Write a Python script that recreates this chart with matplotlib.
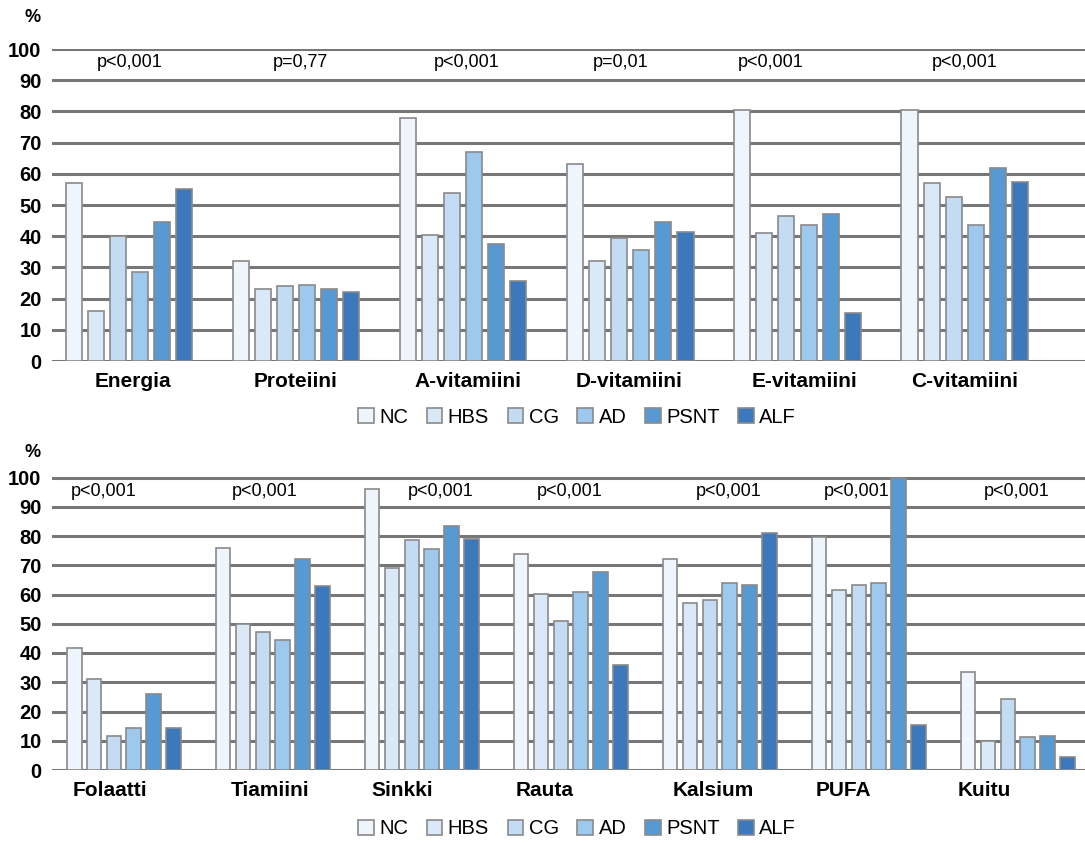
import matplotlib
matplotlib.use("Agg")
import matplotlib.pyplot as plt
from matplotlib.patches import Patch

plt.rcParams['font.family'] = ['Liberation Sans', 'DejaVu Sans']

groups = ["NC", "HBS", "CG", "AD", "PSNT", "ALF"]
colors = ["#EEF5FD", "#DAE9F8", "#C3DCF3", "#9DC9EE", "#5799D3", "#3C78BC"]

top_cats = ["Energia", "Proteiini", "A-vitamiini", "D-vitamiini", "E-vitamiini", "C-vitamiini"]
top_p = ["p<0,001", "p=0,77", "p<0,001", "p=0,01", "p<0,001", "p<0,001"]
top_vals = {
    "NC":   [57, 32, 78, 63, 80.5, 80.5],
    "HBS":  [16, 23, 40.5, 32, 41, 57],
    "CG":   [40, 24, 54, 39.5, 46.5, 52.5],
    "AD":   [28.5, 24.5, 67, 35.5, 43.5, 43.5],
    "PSNT": [44.5, 23, 37.5, 44.5, 47, 62],
    "ALF":  [55, 22, 25.5, 41.5, 15.5, 57.5],
}

bot_cats = ["Folaatti", "Tiamiini", "Sinkki", "Rauta", "Kalsium", "PUFA", "Kuitu"]
bot_p = ["p<0,001"] * 7
bot_vals = {
    "NC":   [41.6, 75.8, 96, 74, 72.2, 79.8, 33.6],
    "HBS":  [31, 49.8, 69, 60.1, 57, 61.7, 10],
    "CG":   [11.6, 47.1, 78.6, 51, 58, 63.2, 24.2],
    "AD":   [14.2, 44.3, 75.7, 60.9, 63.8, 64, 11.2],
    "PSNT": [25.9, 72.3, 83.4, 67.8, 63.2, 100, 11.6],
    "ALF":  [14.2, 62.9, 78.9, 35.8, 81.1, 15.3, 4.4],
}
yticks = [0, 10, 20, 30, 40, 50, 60, 70, 80, 90, 100]

# layout offsets (label / p-text horizontal nudges, in group units)
top_p_off = [0.006, 0.024, 0.018, -0.06, -0.16, 0.0]
top_lab_off = [0.027, 0.0, 0.03, -0.01, 0.04, 0.0]
bot_p_off = [-0.134, -0.057, 0.126, -0.01, 0.06, -0.08, -0.007]
bot_lab_off = [-0.094, -0.02, -0.134, -0.18, -0.044, -0.174, -0.228]

W, H = 1085, 843
fig = plt.figure(figsize=(W / 100, H / 100), dpi=100)

def make_panel(rect, cats, vals, pvals, step, width, xlim, p_off, lab_off, lab_y, p_y):
    ax = fig.add_axes(rect)
    for j, g in enumerate(groups):
        xs = [i + (j - 2.5) * step for i in range(len(cats))]
        ax.bar(xs, vals[g], width=width, color=colors[j], edgecolor="#8a8a8a",
               linewidth=1.2, zorder=3)
    ax.set_xlim(*xlim)
    ax.set_ylim(0, 100)
    ax.set_yticks(yticks)
    ax.set_yticklabels([str(t) for t in yticks], fontsize=14.5, fontweight="bold")
    ax.tick_params(axis="y", length=0, pad=7.5)
    ax.set_xticks([])
    for s in ax.spines.values():
        s.set_visible(False)
    ax.yaxis.grid(True, color="#777777", linewidth=2.2, zorder=0)
    ax.set_axisbelow(True)
    for i, c in enumerate(cats):
        ax.text(i + lab_off[i], lab_y, c, ha="center", va="center",
                fontsize=15, fontweight="bold", clip_on=False)
        ax.text(i + p_off[i], p_y, pvals[i], ha="center", va="center",
                fontsize=13, zorder=5)
    return ax

ax1 = make_panel([52 / W, 1 - 361 / H, 1 - 52 / W, (361 - 49) / H],
                 top_cats, top_vals, top_p, 0.132, 0.096, (-0.46, 5.72),
                 top_p_off, top_lab_off, -6.6, 95.7)
ax2 = make_panel([52 / W, 1 - 770 / H, 1 - 52 / W, (770 - 477.5) / H],
                 bot_cats, bot_vals, bot_p, 0.134, 0.10, (-0.483, 6.45),
                 bot_p_off, bot_lab_off, -7.0, 95.2)

fig.text(33 / W, 1 - 18 / H, "%", ha="center", va="center", fontsize=13, fontweight="bold")
fig.text(33 / W, 1 - 452 / H, "%", ha="center", va="center", fontsize=13, fontweight="bold")

handles = [Patch(facecolor=c, edgecolor="#8a8a8a", linewidth=1.2) for c in colors]
for yc in [1 - 417 / H, 1 - 829 / H]:
    fig.legend(handles, groups, loc="center", bbox_to_anchor=(577 / W, yc), ncol=6,
               frameon=False, fontsize=14.5, handlelength=0.78, handleheight=0.78,
               handletextpad=0.27, columnspacing=0.92, borderpad=0, borderaxespad=0)

fig.savefig("out.png", dpi=100)
